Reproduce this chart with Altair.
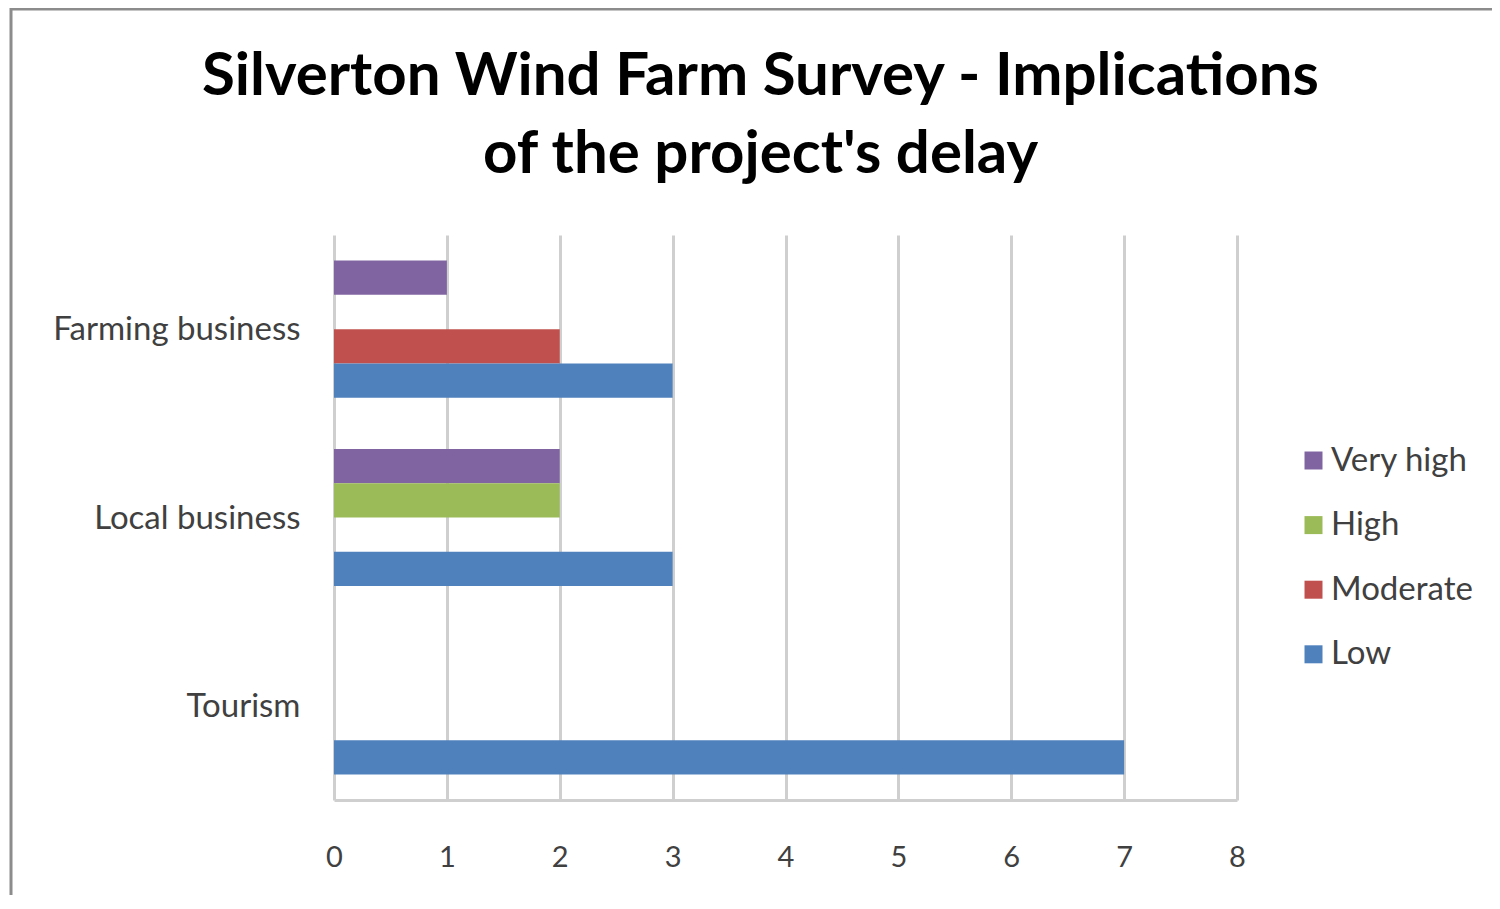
import altair as alt
import pandas as pd

categories = ["Farming business", "Local business", "Tourism"]
series = ["Very high", "High", "Moderate", "Low"]
very_high = [1, 2, 0]
high = [0, 2, 0]
moderate = [2, 0, 0]
low = [3, 3, 7]
colors = ["#8064A2", "#9BBB59", "#C0504D", "#4F81BD"]
x_ticks = [0, 1, 2, 3, 4, 5, 6, 7, 8]

rows = []
for s, vals in zip(series, [very_high, high, moderate, low]):
    for c, v in zip(categories, vals):
        rows.append({"category": c, "level": s, "value": v})
df = pd.DataFrame(rows)

FONT = "Lato"

bars = alt.Chart(df).mark_bar(stroke=None).encode(
    y=alt.Y("category:N", sort=categories, title=None,
            scale=alt.Scale(paddingInner=0, paddingOuter=0),
            axis=alt.Axis(domain=False, ticks=False, labelFontSize=33,
                          labelColor="#404040", labelFont=FONT, labelPadding=34,
                          labelLimit=0, labelOffset=1)),
    yOffset=alt.YOffset("level:N", sort=series,
                        scale=alt.Scale(paddingInner=0, paddingOuter=0.745)),
    x=alt.X("value:Q", title=None,
            scale=alt.Scale(domain=[0, 8], nice=False),
            axis=alt.Axis(values=x_ticks, format="d", ticks=False, labelFontSize=29,
                          labelColor="#404040", labelFont=FONT, labelPadding=43,
                          labelFlush=False,
                          domainColor="#cfcfcf", domainWidth=3,
                          gridColor="#cfcfcf", gridWidth=3)),
    color=alt.Color("level:N", sort=series,
                    scale=alt.Scale(domain=series, range=colors),
                    legend=alt.Legend(title=None, orient="none", legendX=963, legendY=209,
                                      symbolType="square", symbolSize=324,
                                      symbolStrokeWidth=0,
                                      labelFontSize=33, labelFont=FONT,
                                      labelColor="#404040", rowPadding=30.6,
                                      labelOffset=1)),
)

frame = alt.Chart(alt.Data(values=[{}])).mark_rect(
    fill="transparent", stroke="#8c8c8c", strokeWidth=3).encode(
    x=alt.value(-323), x2=alt.value(1600), y=alt.value(-226), y2=alt.value(900))

chart = alt.layer(bars, frame).properties(
    width=903, height=565,
    padding={"left": 326, "top": 227, "right": 255, "bottom": 95},
    autosize=alt.AutoSizeParams(type="none"),
    title=alt.Title(["Silverton Wind Farm Survey - Implications", "of the project's delay"],
                    fontSize=60, font=FONT, fontWeight="bold", color="#000000",
                    lineHeight=78, anchor="middle", dx=-25, offset=-178, frame="group"),
).configure_view(stroke=None)

chart.save("out.html", embed_options={"renderer": "svg", "actions": False})
